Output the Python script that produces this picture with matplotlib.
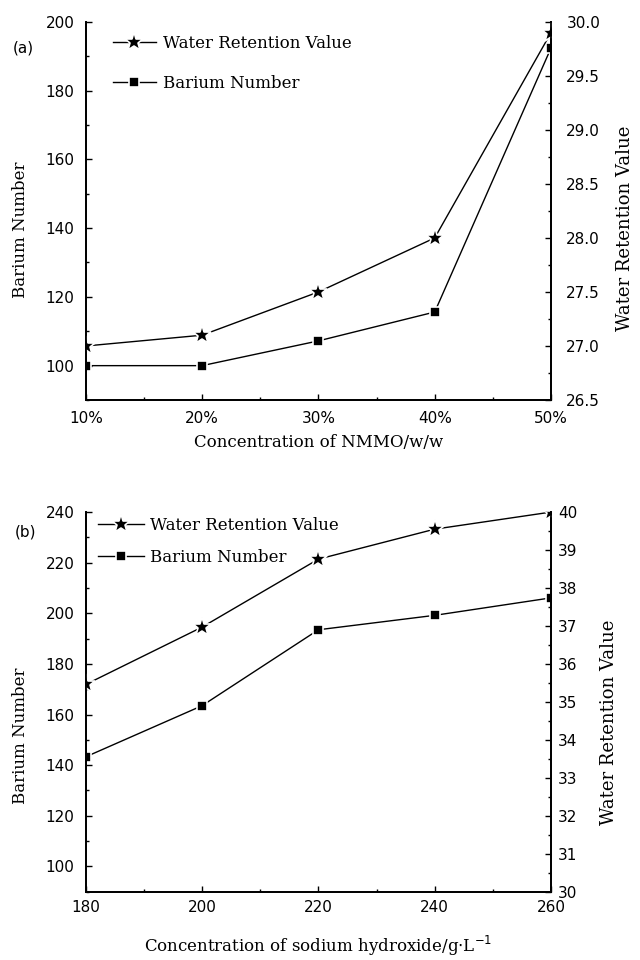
import matplotlib
matplotlib.use("Agg")
import matplotlib.pyplot as plt
from matplotlib.ticker import MultipleLocator

# panel (a): NMMO concentration
nmmo_conc = [10, 20, 30, 40, 50]
nmmo_ticklabels = ["10%", "20%", "30%", "40%", "50%"]
nmmo_barium = [100, 100, 107.2, 115.6, 192.4]
nmmo_wrv = [27.0, 27.1, 27.5, 28.0, 29.9]

# panel (b): sodium hydroxide concentration
naoh_conc = [180, 200, 220, 240, 260]
naoh_barium = [143.3, 163.5, 193.5, 199.2, 206.1]
naoh_wrv = [35.46, 36.97, 38.76, 39.55, 40.0]

SERIF = "DejaVu Serif"
SANS = "DejaVu Sans"


def style_axis(ax, tick_pad):
    ax.tick_params(which="both", direction="in", width=1.0, labelsize=11)
    ax.tick_params(which="major", length=4.5)
    ax.tick_params(which="minor", length=2.5)
    ax.tick_params(axis="y", pad=tick_pad)
    for lab in ax.get_xticklabels() + ax.get_yticklabels():
        lab.set_fontfamily(SANS)
    for s in ax.spines.values():
        s.set_linewidth(1.3)
    ax.spines["top"].set_visible(False)


def plot_panel(ax, x, barium, wrv, cfg):
    ax2 = ax.twinx()

    line_kw = dict(color="black", lw=1.0, markeredgecolor="white", markeredgewidth=1.2)
    b, = ax.plot(x, barium, marker="s", ms=6.5, markerfacecolor="black",
                 label="Barium Number", **line_kw)
    w, = ax2.plot(x, wrv, marker="*", ms=14, markerfacecolor="black",
                  label="Water Retention Value", **line_kw)

    ax.set_xlim(x[0], x[-1])
    ax.set_ylim(*cfg["left_lim"])
    ax2.set_ylim(*cfg["right_lim"])

    ax.xaxis.set_major_locator(MultipleLocator(cfg["x_major"]))
    ax.xaxis.set_minor_locator(MultipleLocator(cfg["x_major"] / 2))
    ax.yaxis.set_major_locator(MultipleLocator(20))
    ax.yaxis.set_minor_locator(MultipleLocator(10))
    ax2.yaxis.set_major_locator(MultipleLocator(cfg["right_major"]))
    ax2.yaxis.set_minor_locator(MultipleLocator(cfg["right_major"] / 2))
    if "x_ticklabels" in cfg:
        ax.set_xticks(x)
        ax.set_xticklabels(cfg["x_ticklabels"])
    if "right_fmt" in cfg:
        ax2.yaxis.set_major_formatter(cfg["right_fmt"])

    style_axis(ax, 8)
    style_axis(ax2, cfg["right_pad"])
    ax.tick_params(axis="x", pad=cfg["x_pad"])

    ax.set_ylabel("Barium Number", fontfamily=SERIF, fontsize=12)
    ax.yaxis.set_label_coords(-0.122, cfg["left_label_y"])
    ax2.set_ylabel("Water Retention Value", fontfamily=SERIF, fontsize=13)
    ax2.yaxis.set_label_coords(cfg["right_label_x"], cfg["right_label_y"])
    ax.set_xlabel(cfg["xlabel"], fontfamily=SERIF, fontsize=12)
    ax.xaxis.set_label_coords(0.5, cfg["xlabel_y"])

    ax2.legend(handles=[w, b], loc="upper left", frameon=False,
               bbox_to_anchor=cfg["leg_anchor"], borderaxespad=0, borderpad=0,
               handlelength=cfg["leg_handle"], handletextpad=0.4,
               labelspacing=cfg["leg_spacing"],
               prop={"family": SERIF, "size": 12})
    return ax2


fig = plt.figure(figsize=(6.4, 9.6), dpi=100)
ax_a = fig.add_axes([0.134, 0.5833, 0.727, 0.394])
ax_b = fig.add_axes([0.134, 0.0711, 0.727, 0.3955])

plot_panel(ax_a, nmmo_conc, nmmo_barium, nmmo_wrv, dict(
    left_lim=(90, 200), right_lim=(26.5, 30.0), x_major=10, right_major=0.5,
    x_ticklabels=nmmo_ticklabels, right_fmt="{x:.1f}", right_pad=11, x_pad=8,
    left_label_y=0.45, right_label_x=1.14, right_label_y=0.455,
    xlabel="Concentration of NMMO/w/w", xlabel_y=-0.09,
    leg_anchor=(0.058, 0.966), leg_handle=2.6, leg_spacing=1.4,
))

plot_panel(ax_b, naoh_conc, naoh_barium, naoh_wrv, dict(
    left_lim=(90, 240), right_lim=(30, 40), x_major=20, right_major=1,
    right_pad=5, x_pad=6,
    left_label_y=0.41, right_label_x=1.105, right_label_y=0.446,
    xlabel=r"Concentration of sodium hydroxide/g$\cdot$L$^{-1}$", xlabel_y=-0.11,
    leg_anchor=(0.026, 0.987), leg_handle=2.75, leg_spacing=0.9,
))

fig.text(23 / 640, 1 - 48 / 960, "(a)", family=SANS, fontsize=11, ha="center", va="center")
fig.text(25 / 640, 1 - 532 / 960, "(b)", family=SANS, fontsize=11, ha="center", va="center")

fig.savefig("out.png", dpi=100)
